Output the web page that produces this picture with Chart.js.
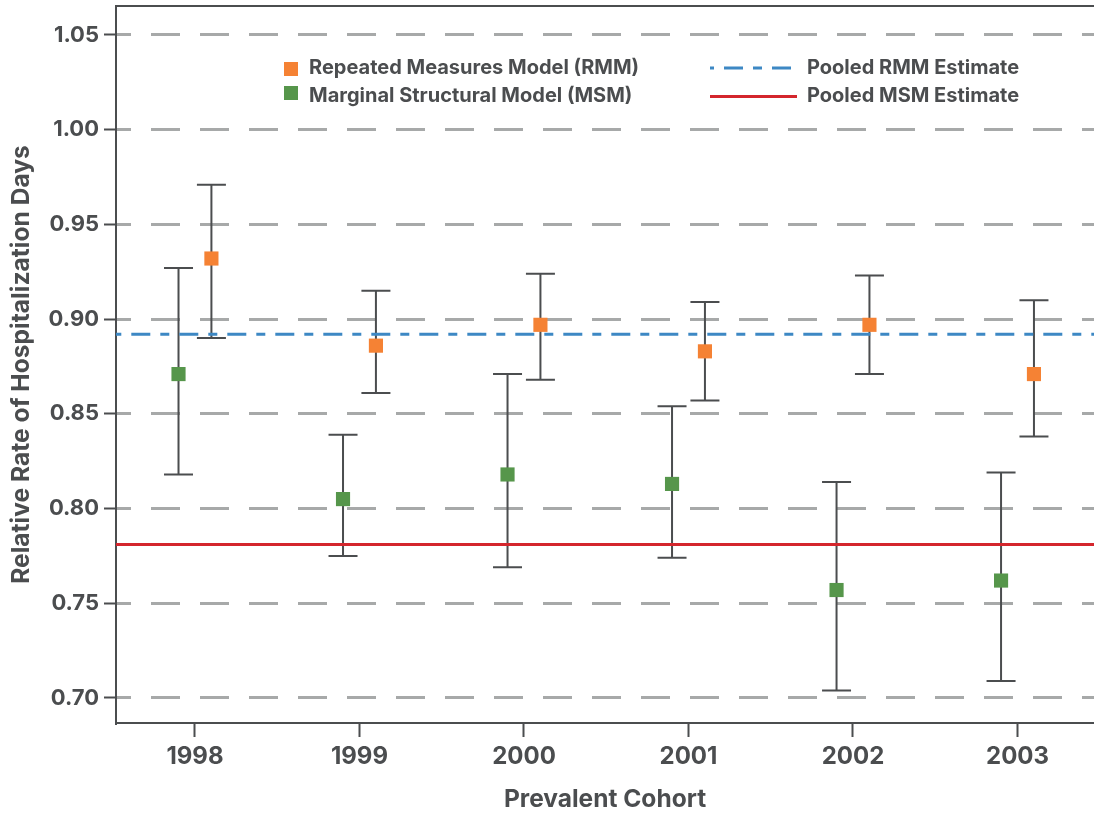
<!DOCTYPE html>
<html>
<head>
<meta charset="utf-8">
<script src="https://cdn.jsdelivr.net/npm/chart.js@4.4.1/dist/chart.umd.min.js"></script>
<style>
  html, body { margin: 0; padding: 0; background: #fff; }
  #wrap { width: 1094px; height: 815px; }
</style>
</head>
<body>
<div id="wrap"><canvas id="chartCanvas"></canvas></div>
<script>
// Cohort years
const years = [1998, 1999, 2000, 2001, 2002, 2003];

// Repeated Measures Model: estimate and 95% interval
const rmmRate = [0.932, 0.886, 0.897, 0.883, 0.897, 0.871];
const rmmLow = [0.890, 0.861, 0.868, 0.857, 0.871, 0.838];
const rmmHigh = [0.971, 0.915, 0.924, 0.909, 0.923, 0.910];

// Marginal Structural Model: estimate and 95% interval
const msmRate = [0.871, 0.805, 0.818, 0.813, 0.757, 0.762];
const msmLow = [0.818, 0.775, 0.769, 0.774, 0.704, 0.709];
const msmHigh = [0.927, 0.839, 0.871, 0.854, 0.814, 0.819];

// Pooled estimates
const pooledRmm = 0.892;
const pooledMsm = 0.781;

// Y axis tick labels
const yTicks = [0.70, 0.75, 0.80, 0.85, 0.90, 0.95, 1.00, 1.05];

// Axis ranges
const xMin = 1997.52;
const xMax = 2003.465;
const yMin = 0.6868;
const yMax = 1.0653;

// Horizontal nudge so the two models sit side by side
const shift = 0.1;

const textColor = '#4b4d4f';
const fontFamily = 'Inter, "Liberation Sans", Arial, sans-serif';
Chart.defaults.font.family = fontFamily;
Chart.defaults.color = textColor;

const blueDash = [19, 10, 9, 10];

// Drop the automatic label overhang so the plot box fills the canvas
function noScalePadding(scale) {
  scale.paddingTop = 0;
  scale.paddingBottom = 0;
  scale.paddingLeft = 0;
  scale.paddingRight = 0;
}

// Draw the whiskers with caps under each square
const errorBarPlugin = {
  id: 'errorBars',
  beforeDatasetsDraw(chart) {
    const ctx = chart.ctx;
    const xs = chart.scales.x;
    const ys = chart.scales.y;
    ctx.save();
    ctx.strokeStyle = textColor;
    ctx.lineWidth = 2;
    chart.data.datasets.forEach(function(ds) {
      if (!ds.errorBars) return;
      ds.data.forEach(function(pt, i) {
        const px = xs.getPixelForValue(pt.x);
        const top = ys.getPixelForValue(ds.errorBars.high[i]);
        const bottom = ys.getPixelForValue(ds.errorBars.low[i]);
        const half = 14.5;
        ctx.beginPath();
        ctx.moveTo(px, top);
        ctx.lineTo(px, bottom);
        ctx.moveTo(px - half, top);
        ctx.lineTo(px + half, top);
        ctx.moveTo(px - half, bottom);
        ctx.lineTo(px + half, bottom);
        ctx.stroke();
      });
    });
    ctx.restore();
  }
};

// Top frame line and the two-column legend
const framePlugin = {
  id: 'frameAndLegend',
  afterDraw(chart) {
    const ctx = chart.ctx;
    const area = chart.chartArea;
    const ds = chart.data.datasets;
    ctx.save();
    ctx.strokeStyle = textColor;
    ctx.lineWidth = 2;
    ctx.beginPath();
    ctx.moveTo(area.left - 1, area.top);
    ctx.lineTo(area.right, area.top);
    ctx.stroke();

    ctx.font = 'bold 20px ' + fontFamily;
    ctx.textBaseline = 'middle';
    ctx.textAlign = 'left';

    // marker entries
    ctx.fillStyle = ds[0].backgroundColor;
    ctx.fillRect(284, 62, 14, 14);
    ctx.fillStyle = ds[1].backgroundColor;
    ctx.fillRect(284, 86, 14, 14);
    ctx.fillStyle = textColor;
    ctx.fillText(ds[0].label, 309, 68);
    ctx.fillText(ds[1].label, 309, 96);

    // line entries
    ctx.lineWidth = 3;
    ctx.strokeStyle = ds[2].borderColor;
    ctx.setLineDash(blueDash);
    ctx.lineDashOffset = 34;
    ctx.beginPath();
    ctx.moveTo(710, 68);
    ctx.lineTo(797, 68);
    ctx.stroke();
    ctx.setLineDash([]);
    ctx.strokeStyle = ds[3].borderColor;
    ctx.beginPath();
    ctx.moveTo(710, 96.5);
    ctx.lineTo(797, 96.5);
    ctx.stroke();
    ctx.fillText(ds[2].label, 807, 68);
    ctx.fillText(ds[3].label, 807, 96);
    ctx.restore();
  }
};

new Chart(document.getElementById('chartCanvas'), {
  type: 'scatter',
  data: {
    datasets: [
      {
        label: 'Repeated Measures Model (RMM)',
        data: years.map((yr, i) => ({ x: yr + shift, y: rmmRate[i] })),
        errorBars: { low: rmmLow, high: rmmHigh },
        backgroundColor: '#f58234',
        pointStyle: 'rect',
        pointRadius: 10,
        pointHoverRadius: 10,
        borderWidth: 0,
        order: 1
      },
      {
        label: 'Marginal Structural Model (MSM)',
        data: years.map((yr, i) => ({ x: yr - shift, y: msmRate[i] })),
        errorBars: { low: msmLow, high: msmHigh },
        backgroundColor: '#56964b',
        pointStyle: 'rect',
        pointRadius: 10,
        pointHoverRadius: 10,
        borderWidth: 0,
        order: 1
      },
      {
        type: 'line',
        label: 'Pooled RMM Estimate',
        data: [{ x: xMin, y: pooledRmm }, { x: xMax, y: pooledRmm }],
        borderColor: '#3d88c4',
        borderWidth: 3,
        borderDash: blueDash,
        borderDashOffset: 32.7,
        pointRadius: 0,
        order: 2
      },
      {
        type: 'line',
        label: 'Pooled MSM Estimate',
        data: [{ x: xMin, y: pooledMsm }, { x: xMax, y: pooledMsm }],
        borderColor: '#d4262d',
        borderWidth: 3,
        pointRadius: 0,
        order: 2
      }
    ]
  },
  options: {
    responsive: true,
    maintainAspectRatio: false,
    animation: false,
    layout: { autoPadding: false, padding: { top: 6, right: 0, left: 0, bottom: 0 } },
    plugins: {
      legend: { display: false },
      tooltip: { enabled: false }
    },
    scales: {
      x: {
        type: 'linear',
        min: xMin,
        max: xMax,
        afterBuildTicks(scale) {
          scale.ticks = years.map(v => ({ value: v }));
        },
        afterFit(scale) {
          scale.height = 92;
          noScalePadding(scale);
        },
        ticks: {
          callback: v => String(v),
          font: { size: 24, weight: 'bold' },
          color: textColor,
          padding: 5,
          maxRotation: 0
        },
        grid: {
          drawOnChartArea: false,
          tickLength: 14,
          tickColor: textColor,
          tickWidth: 2
        },
        border: { color: textColor, width: 2 },
        title: {
          display: true,
          text: 'Prevalent Cohort',
          font: { size: 24.5, weight: 'bold' },
          color: textColor,
          padding: { top: 0, bottom: 1 }
        }
      },
      y: {
        type: 'linear',
        min: yMin,
        max: yMax,
        afterBuildTicks(scale) {
          scale.ticks = yTicks.map(v => ({ value: v }));
        },
        afterFit(scale) {
          scale.width = 116;
          noScalePadding(scale);
        },
        ticks: {
          callback: v => v.toFixed(2),
          font: { size: 22, weight: 'bold' },
          color: textColor,
          padding: 5
        },
        grid: {
          color: '#a7a9a9',
          lineWidth: 3,
          tickLength: 12,
          tickColor: textColor,
          tickWidth: 2
        },
        border: { color: textColor, width: 2, dash: [29, 20], dashOffset: 15 },
        title: {
          display: true,
          text: 'Relative Rate of Hospitalization Days',
          font: { size: 24.6, weight: 'bold' },
          color: textColor,
          padding: { top: 7, bottom: 0 }
        }
      }
    }
  },
  plugins: [errorBarPlugin, framePlugin]
});
</script>
</body>
</html>
